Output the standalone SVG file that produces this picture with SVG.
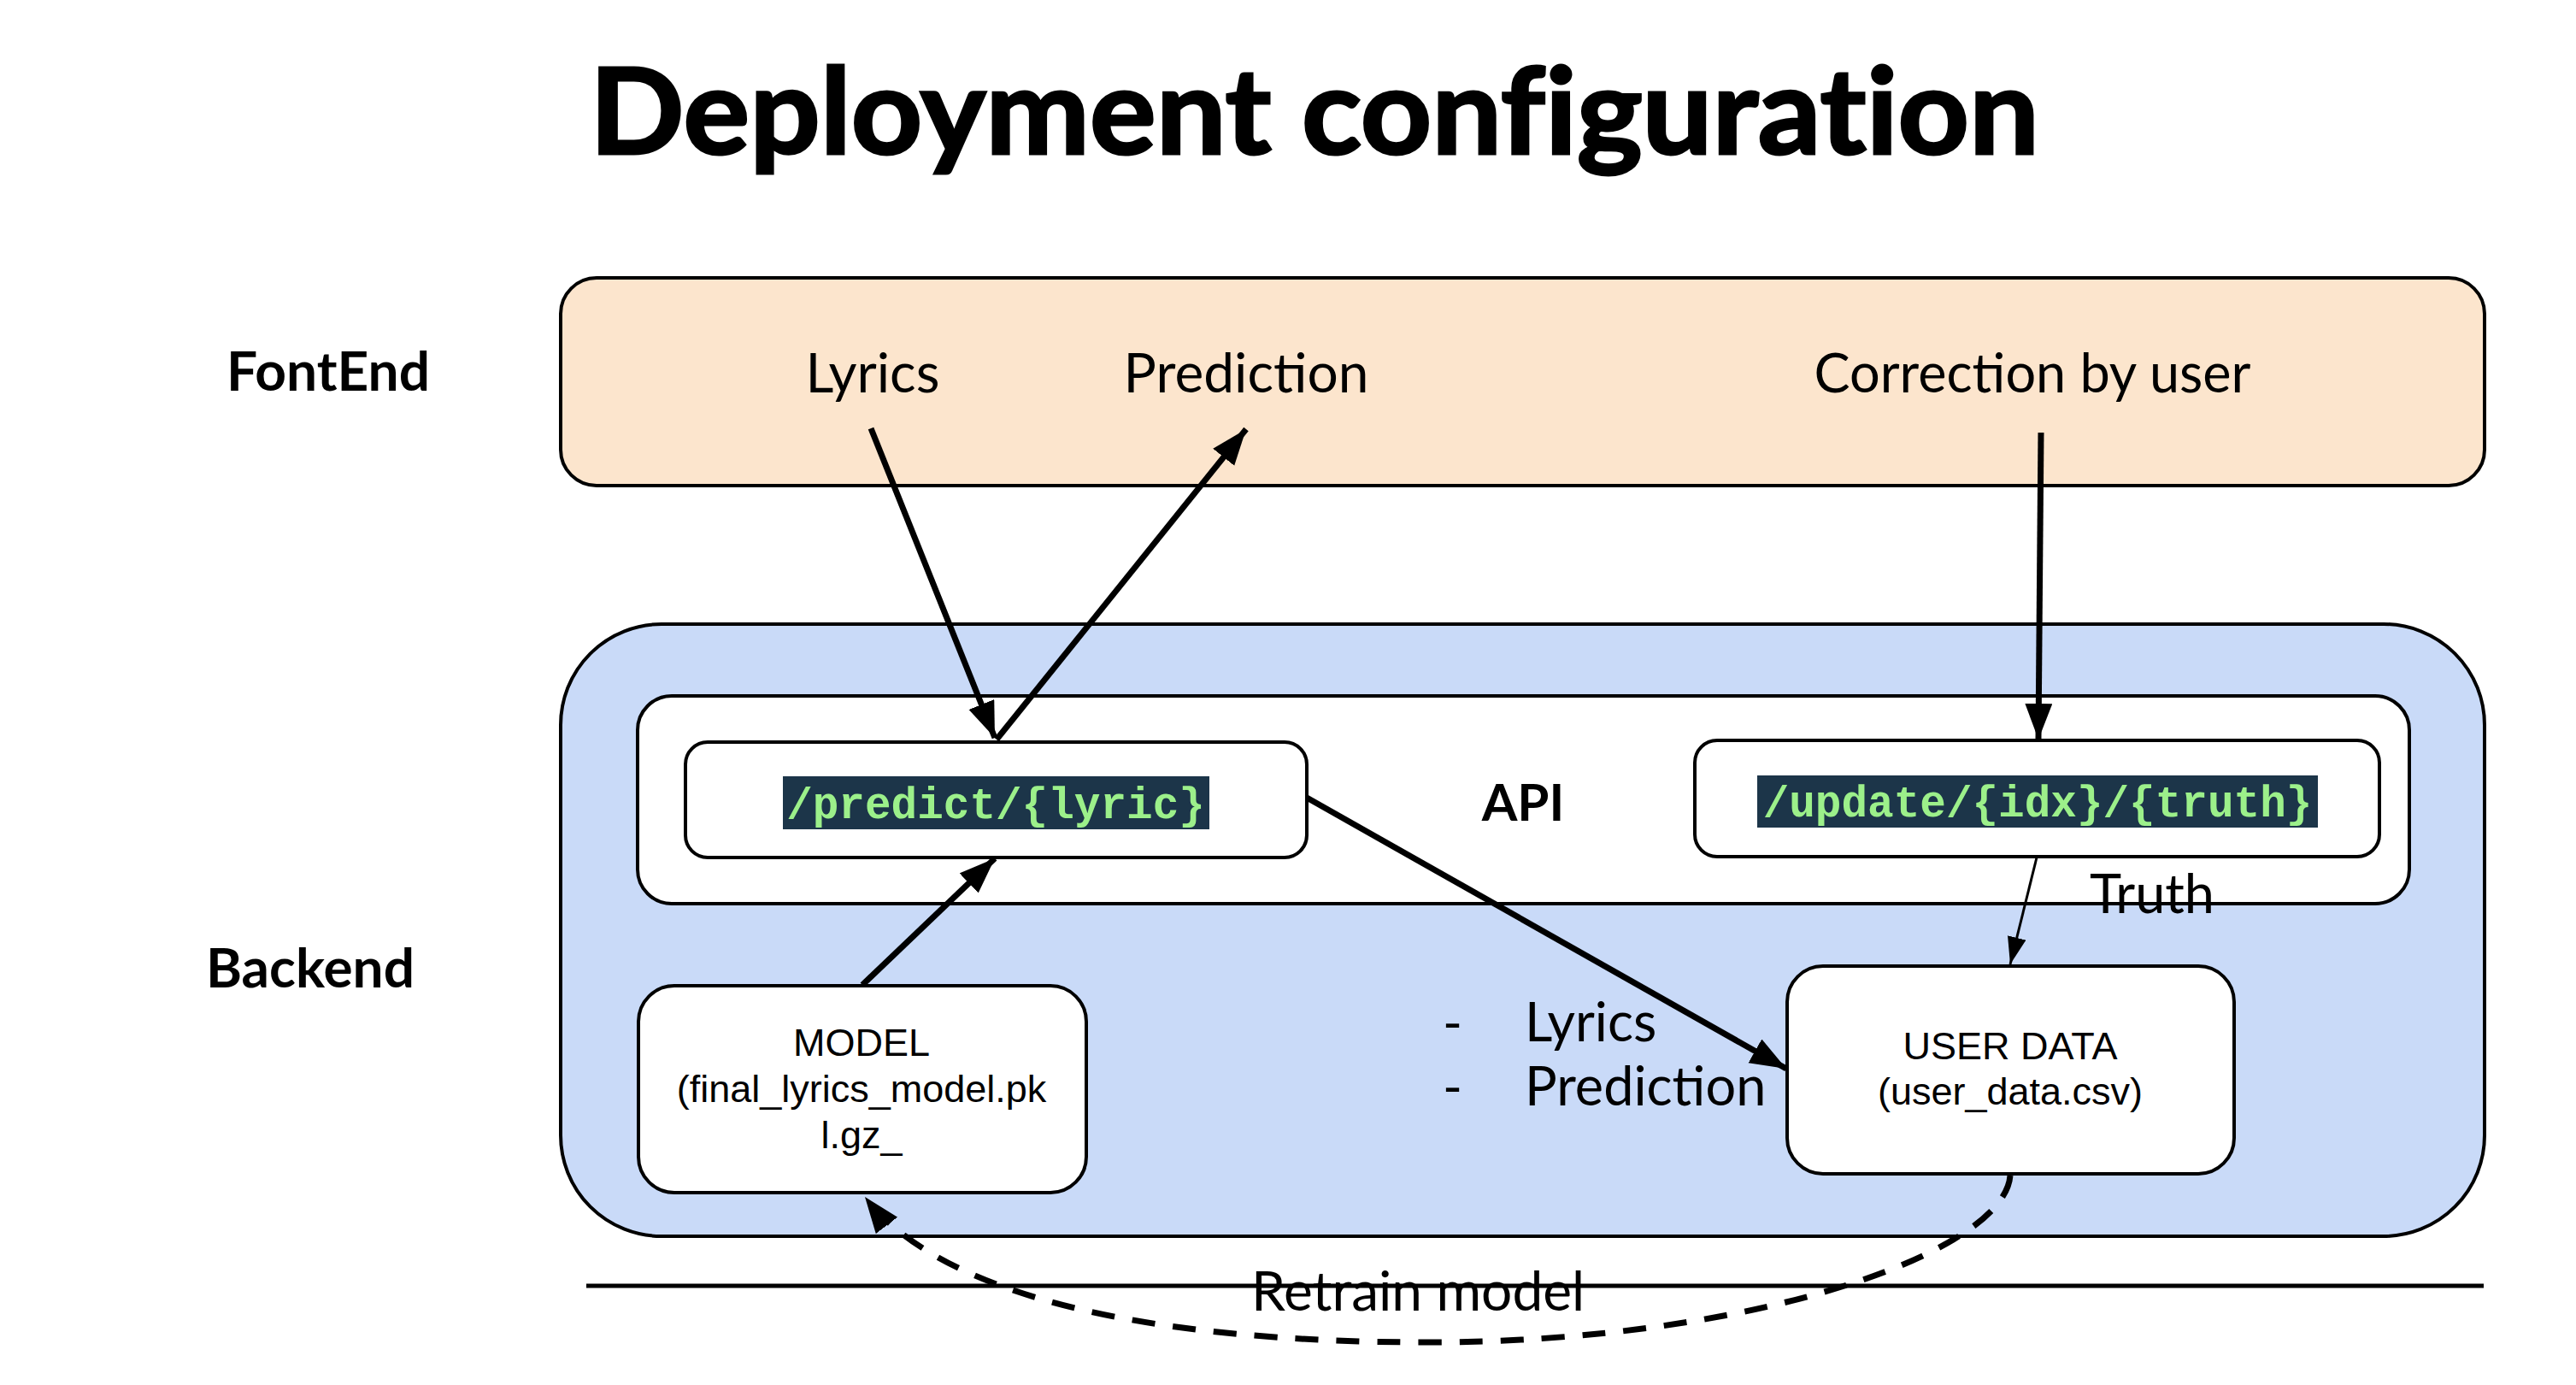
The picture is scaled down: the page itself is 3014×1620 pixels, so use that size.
<svg xmlns="http://www.w3.org/2000/svg" width="3014" height="1620" viewBox="0 0 3014 1620">
<style>
.lato{font-family:Lato,"Noto Sans",sans-serif;fill:#000}
.b{font-weight:700}
.arial{font-family:"Liberation Sans",Arial,sans-serif;fill:#000}
.code{font-family:"Liberation Mono","Courier New",monospace;font-weight:700;fill:#9cf08a;font-size:51px}
.codebg{fill:#1c3549}
.box{stroke:#000;stroke-width:4}
.wbox{fill:#fff;stroke:#000;stroke-width:4}
.conn{fill:none;stroke:#000;stroke-width:7}
.thin{fill:none;stroke:#000;stroke-width:3}
</style>
<defs>
<marker id="ah" markerUnits="userSpaceOnUse" markerWidth="50" markerHeight="40" refX="42" refY="16" orient="auto"><path d="M0,0 L42,16 L0,32 Z" fill="#000"/></marker>
<marker id="ahs" markerUnits="userSpaceOnUse" markerWidth="40" markerHeight="30" refX="32" refY="11" orient="auto"><path d="M0,0 L32,11 L0,22 Z" fill="#000"/></marker>
</defs>
<rect width="3014" height="1620" fill="#fff"/>
<text id="title" class="lato b" x="1538" y="180" font-size="140" text-anchor="middle" stroke="#000" stroke-width="3" textLength="1696" lengthAdjust="spacingAndGlyphs" style="font-variant-ligatures:none">Deployment configuration</text>
<g id="frontend">
<rect class="box" x="656" y="325" width="2251" height="243" rx="42" fill="#fce5cd"/>
<text class="lato b" x="384" y="457" font-size="64" text-anchor="middle">FontEnd</text>
<text class="lato" x="1021" y="459" font-size="64" text-anchor="middle">Lyrics</text>
<text class="lato" x="1458" y="459" font-size="64" text-anchor="middle">Prediction</text>
<text class="lato" x="2378" y="459" font-size="63" text-anchor="middle">Correction by user</text>
</g>
<g id="backend">
<rect class="box" x="656" y="730" width="2251" height="716" rx="118" fill="#c9daf8"/>
<text class="lato b" x="363" y="1155" font-size="64" text-anchor="middle">Backend</text>
</g>
<g id="api">
<rect class="wbox" x="746" y="814" width="2073" height="243" rx="40"/>
<text class="lato b" x="1782" y="960" font-size="60" text-anchor="middle">API</text>
</g>
<g id="predict">
<rect class="wbox" x="802" y="868" width="727" height="135" rx="26"/>
<rect class="codebg" x="916" y="908" width="499" height="62"/>
<text class="code" x="1165" y="957" text-anchor="middle">/predict/{lyric}</text>
</g>
<g id="update">
<rect class="wbox" x="1983" y="866" width="801" height="136" rx="26"/>
<rect class="codebg" x="2056" y="907" width="656" height="61"/>
<text class="code" x="2384" y="955" text-anchor="middle">/update/{idx}/{truth}</text>
</g>
<g id="model">
<rect class="wbox" x="747" y="1153" width="524" height="242" rx="42"/>
<text class="arial" font-size="45" text-anchor="middle"><tspan x="1008" y="1235">MODEL</tspan><tspan x="1008" y="1289">(final_lyrics_model.pk</tspan><tspan x="1008" y="1343">l.gz_</tspan></text>
</g>
<g id="userdata">
<rect class="wbox" x="2091" y="1130" width="523" height="243" rx="42"/>
<text class="arial" font-size="45" text-anchor="middle"><tspan x="2352" y="1239">USER DATA</tspan><tspan x="2352" y="1292">(user_data.csv)</tspan></text>
</g>
<g id="labels">
<text class="lato" x="1688" y="1218" font-size="62">-</text>
<text class="lato" x="1784" y="1218" font-size="63">Lyrics</text>
<text class="lato" x="1688" y="1293" font-size="62">-</text>
<text class="lato" x="1784" y="1293" font-size="63">Prediction</text>
<text class="lato" x="2518" y="1068" font-size="63" text-anchor="middle">Truth</text>
</g>
<line id="divider" x1="686" y1="1504" x2="2906" y2="1504" stroke="#000" stroke-width="5"/>
<g id="connectors">
<line class="conn" x1="1019" y1="501" x2="1164" y2="863" marker-end="url(#ah)"/>
<line class="conn" x1="1166" y1="865" x2="1458" y2="502" marker-end="url(#ah)"/>
<line class="conn" x1="2388" y1="506" x2="2385" y2="865" marker-end="url(#ah)"/>
<line class="conn" x1="1009" y1="1152" x2="1164" y2="1004" marker-end="url(#ah)"/>
<line class="conn" x1="1529" y1="933" x2="2090" y2="1250" marker-end="url(#ah)"/>
<line class="thin" x1="2383" y1="1003" x2="2352" y2="1128" marker-end="url(#ahs)"/>
<path class="conn" d="M2352,1375 C2345,1465 2050,1570 1670,1570 C1340,1570 1100,1515 1012,1400" stroke-dasharray="27 21" marker-end="url(#ah)"/>
</g>
<text id="retrain" class="lato" x="1659" y="1533" font-size="64" text-anchor="middle">Retrain model</text>
</svg>
